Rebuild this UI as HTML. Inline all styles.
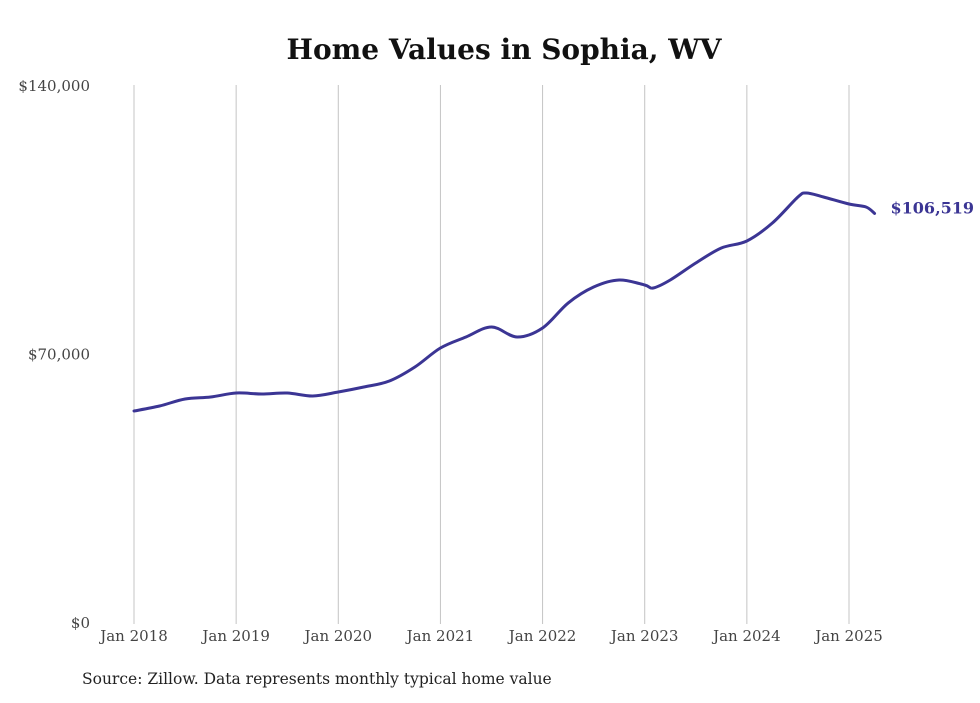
<!DOCTYPE html>
<html><head><meta charset="utf-8"><style>
body{margin:0;background:#fff;width:980px;height:699px;overflow:hidden;font-family:"DejaVu Serif","Liberation Serif",serif}
</style></head><body>
<svg id="chart" width="980" height="699" xmlns="http://www.w3.org/2000/svg">
<text x="504" y="59" text-anchor="middle" font-size="28" font-weight="bold" fill="#111" font-family="DejaVu Serif, serif">Home Values in Sophia, WV</text>
<g id="grid"></g><g id="yticks"></g><g id="xticks"></g><g id="series"></g>
<text x="82" y="684" font-size="15.5" fill="#222" font-family="DejaVu Serif, serif">Source: Zillow. Data represents monthly typical home value</text>
</svg>
<script>
const months=[0,3,6,9,12,15,18,21,24,27,30,33,36,39,42,45,48,51,54,57,60,61,63,66,69,72,75,78,79,81,84,86,87];
const values=[55010,56310,58140,58660,59700,59440,59700,58920,59960,61260,62830,66480,71430,74300,76910,74300,76650,83160,87330,89160,87860,87070,89160,93590,97500,99330,104020,110800,111840,110800,108970,108190,106519];
const yTickVals=[0,70000,140000];
const yTickLabels=["$0","$70,000","$140,000"];
const xTickMonths=[0,12,24,36,48,60,72,84];
const xTickLabels=["Jan 2018","Jan 2019","Jan 2020","Jan 2021","Jan 2022","Jan 2023","Jan 2024","Jan 2025"];
const endLabel="$106,519";
const NS="http://www.w3.org/2000/svg";
const x=m=>134+m*(715/84);
const y=v=>622-v*(537/140000);
function mk(t,a,p){const e=document.createElementNS(NS,t);for(const k in a)e.setAttribute(k,a[k]);p.appendChild(e);return e;}
const grid=document.getElementById('grid'),yt=document.getElementById('yticks'),xt=document.getElementById('xticks'),se=document.getElementById('series');
xTickMonths.forEach((m,i)=>{
 const l=mk('line',{x1:x(m),x2:x(m),y1:85,y2:624,stroke:'#c4c4c4','stroke-width':1},grid);
 
 
 const t=mk('text',{x:x(m),y:641,'text-anchor':'middle','font-size':15,fill:'#444'},xt);
 t.textContent=xTickLabels[i];
 
 
});
yTickVals.forEach((v,i)=>{
 const t=mk('text',{x:90,y:y(v)+6,'text-anchor':'end','font-size':15,fill:'#444'},yt);
 t.textContent=yTickLabels[i];
 
 
});
const pts=months.map((m,i)=>[x(m),y(values[i])]);
let d='M'+pts[0][0]+','+pts[0][1];
for(let i=0;i<pts.length-1;i++){
 const p0=pts[Math.max(0,i-1)],p1=pts[i],p2=pts[i+1],p3=pts[Math.min(pts.length-1,i+2)];
 const c1=[p1[0]+(p2[0]-p0[0])/6,p1[1]+(p2[1]-p0[1])/6],c2=[p2[0]-(p3[0]-p1[0])/6,p2[1]-(p3[1]-p1[1])/6];
 d+=' C'+c1+' '+c2+' '+p2;
}
const path=mk('path',{d:d,fill:'none',stroke:'#3b3594','stroke-width':3,'stroke-linejoin':'round','stroke-linecap':'round'},se);


const last=pts[pts.length-1];
const lab=mk('text',{x:last[0]+16,y:last[1]-0,'font-size':16,'font-weight':'bold',fill:'#3b3594'},se);
lab.textContent=endLabel;


</script>
</body></html>
